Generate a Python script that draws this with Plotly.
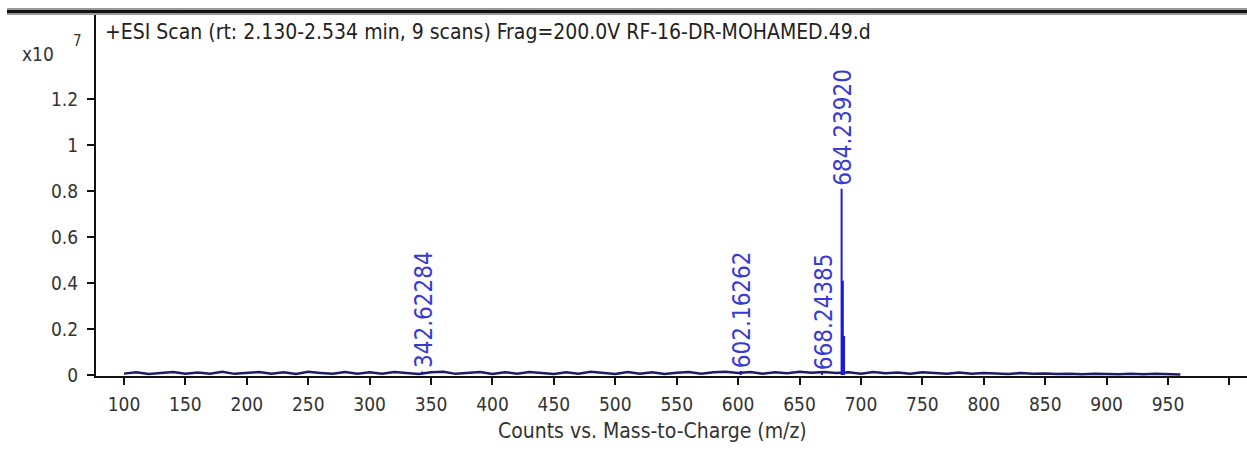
import plotly.graph_objects as go

# ---- spectrum data (intensity in units of 1e7 counts) ----
noise_mz = [100, 110, 120, 130, 140, 150, 160, 170, 180, 190,
            200, 210, 220, 230, 240, 250, 260, 270, 280, 290,
            300, 310, 320, 330, 340, 350, 360, 370, 380, 390,
            400, 410, 420, 430, 440, 450, 460, 470, 480, 490,
            500, 510, 520, 530, 540, 550, 560, 570, 580, 590,
            600, 610, 620, 630, 640, 650, 660, 670, 680, 690,
            700, 710, 720, 730, 740, 750, 760, 770, 780, 790,
            800, 810, 820, 830, 840, 850, 860, 870, 880, 890,
            900, 910, 920, 930, 940, 950, 960]
noise_int = [0.006, 0.012, 0.004, 0.010, 0.013, 0.005, 0.011, 0.006, 0.014, 0.005,
             0.010, 0.013, 0.005, 0.012, 0.004, 0.014, 0.009, 0.005, 0.013, 0.006,
             0.012, 0.005, 0.013, 0.008, 0.004, 0.012, 0.014, 0.005, 0.010, 0.013,
             0.004, 0.012, 0.006, 0.013, 0.009, 0.004, 0.012, 0.006, 0.014, 0.009,
             0.004, 0.013, 0.006, 0.012, 0.004, 0.010, 0.013, 0.005, 0.012, 0.014,
             0.009, 0.013, 0.006, 0.012, 0.008, 0.014, 0.010, 0.013, 0.009, 0.012,
             0.006, 0.013, 0.008, 0.011, 0.005, 0.012, 0.009, 0.006, 0.011, 0.005,
             0.009, 0.006, 0.004, 0.009, 0.005, 0.007, 0.004, 0.006, 0.003, 0.006,
             0.004, 0.003, 0.006, 0.003, 0.005, 0.003, 0.002]

peak_mz = [342.62284, 602.16262, 668.24385, 684.23920, 685.24, 686.24]
peak_int = [0.015, 0.018, 0.010, 0.81, 0.41, 0.17]
peak_labels = ["342.62284", "602.16262", "668.24385", "684.23920", "", ""]

x_ticks = [100, 150, 200, 250, 300, 350, 400, 450, 500, 550,
           600, 650, 700, 750, 800, 850, 900, 950, 1000]
x_ticktext = ["100", "150", "200", "250", "300", "350", "400", "450", "500", "550",
              "600", "650", "700", "750", "800", "850", "900", "950", ""]
y_ticks = [0, 0.2, 0.4, 0.6, 0.8, 1.0, 1.2]
y_ticktext = ["0", "0.2", "0.4", "0.6", "0.8", "1", "1.2"]

title_text = "+ESI Scan (rt: 2.130-2.534 min, 9 scans) Frag=200.0V RF-16-DR-MOHAMED.49.d"
x_title = "Counts vs. Mass-to-Charge (m/z)"

FONT = "DejaVu Sans Condensed, DejaVu Sans, sans-serif"
NAVY = "#1c1c6a"
BLUE = "#1c1cd0"
LABEL_BLUE = "#3a3ad2"
TEXT = "#333333"

fig = go.Figure()

# baseline noise profile
fig.add_trace(go.Scatter(x=noise_mz, y=noise_int, mode="lines",
                         line=dict(color=NAVY, width=2.5), hoverinfo="skip"))

# centroid sticks for the peaks
stick_x, stick_y = [], []
for mz, it in zip(peak_mz, peak_int):
    stick_x += [mz, mz, None]
    stick_y += [0, it, None]
fig.add_trace(go.Scatter(x=stick_x, y=stick_y, mode="lines",
                         line=dict(color=BLUE, width=2), hoverinfo="skip"))

# rotated peak labels
for mz, it, lab in zip(peak_mz, peak_int, peak_labels):
    if not lab:
        continue
    fig.add_annotation(x=mz, y=it, xref="x", yref="y", text=lab,
                       textangle=-90, showarrow=False,
                       xanchor="center", yanchor="bottom", yshift=1, xshift=2,
                       font=dict(family=FONT, size=24, color=LABEL_BLUE))

W, H = 1247, 453
L, R, T, B = 96, 0, 13, 77
pw, ph = W - L - R, H - T - B


def px(xp):
    return (xp - L) / pw


def py(yp):
    return (H - B - yp) / ph


# scan header and exponent marker
fig.add_annotation(x=px(103), y=py(32), xref="paper", yref="paper",
                   text=title_text, showarrow=False, xanchor="left", yanchor="middle",
                   font=dict(family=FONT, size=21, color="#222222"))
fig.add_annotation(x=px(56), y=py(54), xref="paper", yref="paper",
                   text="x10", showarrow=False, xanchor="right", yanchor="middle",
                   font=dict(family=FONT, size=19, color=TEXT))
fig.add_annotation(x=px(77), y=py(41), xref="paper", yref="paper",
                   text="7", showarrow=False, xanchor="center", yanchor="middle",
                   font=dict(family=FONT, size=15, color=TEXT))

# axis caption
fig.add_annotation(x=px(652), y=py(431), xref="paper", yref="paper",
                   text=x_title, showarrow=False, xanchor="center", yanchor="middle",
                   font=dict(family=FONT, size=21, color=TEXT))

# window frame bar along the top
fig.add_shape(type="line", xref="paper", yref="paper",
              x0=px(7), x1=px(W), y0=py(11.5), y1=py(11.5),
              line=dict(color="#9a9a9a", width=7))
fig.add_shape(type="line", xref="paper", yref="paper",
              x0=px(7), x1=px(W), y0=py(11.5), y1=py(11.5),
              line=dict(color="#111111", width=3))

fig.update_layout(
    width=W, height=H,
    margin=dict(l=L, r=R, t=T, b=B, pad=0),
    paper_bgcolor="white", plot_bgcolor="white",
    showlegend=False,
    font=dict(family=FONT, size=19, color=TEXT),
    xaxis=dict(range=[77.2, 1014.3], tickvals=x_ticks, ticktext=x_ticktext,
               ticks="outside", ticklen=7, tickwidth=1.5, tickcolor="#111111",
               showline=True, linecolor="#111111", linewidth=2,
               showgrid=False, zeroline=False, ticklabelstandoff=3,
               tickfont=dict(family=FONT, size=19, color=TEXT)),
    yaxis=dict(range=[-0.0043, 1.574], tickvals=y_ticks, ticktext=y_ticktext,
               ticks="outside", ticklen=7, tickwidth=1.5, tickcolor="#111111",
               showline=True, linecolor="#111111", linewidth=2,
               showgrid=False, zeroline=False, ticklabelstandoff=5,
               tickfont=dict(family=FONT, size=19, color=TEXT)),
)

fig.write_html("out.html")
